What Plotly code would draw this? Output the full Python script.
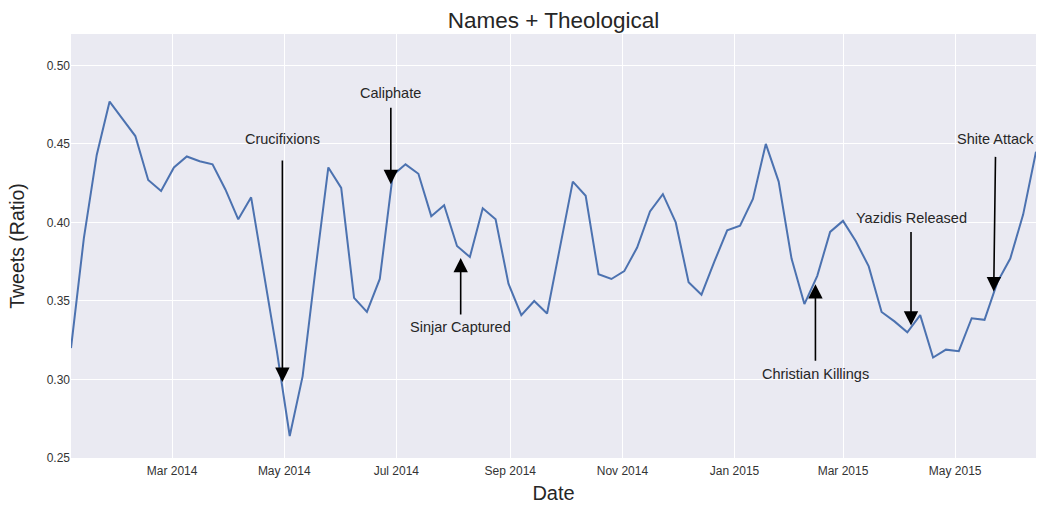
import pandas as pd
import plotly.graph_objects as go

# ---- data ----
start_date = "2014-01-05"
n_weeks = 76
dates = pd.date_range(start_date, periods=n_weeks, freq="7D")
ratio = [
    0.320, 0.390, 0.443, 0.477, 0.466, 0.455, 0.427, 0.420, 0.435, 0.442,
    0.439, 0.437, 0.421, 0.402, 0.416, 0.368, 0.318, 0.264, 0.302, 0.370,
    0.435, 0.422, 0.352, 0.343, 0.364, 0.430, 0.437, 0.431, 0.404, 0.411,
    0.385, 0.378, 0.409, 0.402, 0.361, 0.341, 0.350, 0.342, 0.385, 0.426,
    0.417, 0.367, 0.364, 0.369, 0.384, 0.407, 0.418, 0.400, 0.362, 0.354,
    0.375, 0.395, 0.398, 0.415, 0.450, 0.426, 0.377, 0.348, 0.366, 0.394,
    0.401, 0.388, 0.372, 0.343, 0.337, 0.330, 0.341, 0.314, 0.319, 0.318,
    0.339, 0.338, 0.362, 0.377, 0.405, 0.445,
]

event_labels = ["Crucifixions", "Caliphate", "Sinjar Captured",
                "Christian Killings", "Yazidis Released", "Shite Attack"]
event_dates = ["2014-04-30", "2014-06-28", "2014-08-05",
               "2015-02-14", "2015-04-07", "2015-05-22"]
event_values = [0.2984, 0.4244, 0.3774, 0.3607, 0.3343, 0.3561]

y_ticks = [0.25, 0.30, 0.35, 0.40, 0.45, 0.50]
x_ticks = pd.date_range("2014-03-01", "2015-05-01", freq="2MS")

# ---- layout offsets for annotation text (pixels) ----
text_offsets = [(0, -243), (0, -91), (0, 69), (0, 90), (0, -108), (2, -152)]

TEXT = "#262626"
FONT = "Liberation Sans, Arial, sans-serif"

fig = go.Figure()
fig.add_trace(go.Scatter(
    x=dates, y=ratio, mode="lines",
    line=dict(color="#4C72B0", width=2),
    showlegend=False, hoverinfo="x+y",
))

annotations = []
for lab, d, v, (ax, ay) in zip(event_labels, event_dates, event_values, text_offsets):
    annotations.append(dict(
        x=d, y=v, xref="x", yref="y", text=lab,
        showarrow=True, ax=ax, ay=ay,
        arrowhead=2, arrowsize=1.8, arrowwidth=1.6, arrowcolor="black",
        startstandoff=round(0.05 * abs(ay)),
        font=dict(family=FONT, size=14.5, color=TEXT),
    ))

W, H = 1039, 508
fig.update_layout(
    width=W, height=H,
    margin=dict(l=70.5, r=2.5, t=34.4, b=49.7, autoexpand=False),
    paper_bgcolor="white", plot_bgcolor="#EAEAF2",
    font=dict(family=FONT, color=TEXT),
    title=dict(text="Names + Theological", x=0.5, xanchor="center",
               xref="paper", y=1 - 20 / H, yanchor="middle",
               font=dict(size=22.5, color=TEXT, family=FONT)),
    annotations=annotations,
)
fig.update_xaxes(
    range=[dates[0], dates[-1]],
    tickvals=x_ticks, tickformat="%b %Y",
    showgrid=True, gridcolor="white", gridwidth=1.2,
    zeroline=False, showline=False, ticks="",
    tickfont=dict(size=12, color="#333333", family=FONT),
    ticklabelstandoff=4,
    title=dict(text="Date", font=dict(size=20, color=TEXT, family=FONT), standoff=8),
)
fig.update_yaxes(
    range=[0.25, 0.52],
    tickvals=y_ticks, tickformat=".2f",
    showgrid=True, gridcolor="white", gridwidth=1.2,
    zeroline=False, showline=False, ticks="",
    tickfont=dict(size=12, color="#333333", family=FONT),
    ticklabelstandoff=0,
    title=dict(text="Tweets (Ratio)", font=dict(size=19.5, color=TEXT, family=FONT), standoff=16),
)

fig.write_html(
    "out.html",
    config={"displayModeBar": False},
    post_script="document.body.style.margin='0';document.body.style.overflow='hidden';",
)
